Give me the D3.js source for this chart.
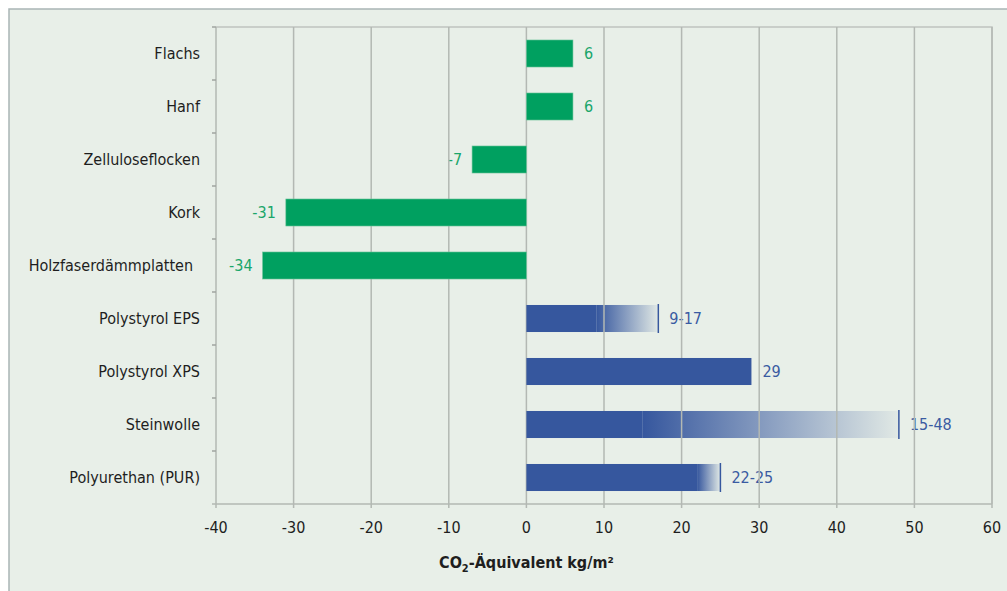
<!DOCTYPE html>
<html>
<head>
<meta charset="utf-8">
<script src="https://cdn.jsdelivr.net/npm/d3@7/dist/d3.min.js"></script>
<style>
  html, body { margin: 0; padding: 0; background: #ffffff; }
  svg text { font-family: "DejaVu Sans Condensed", "DejaVu Sans", sans-serif; }
</style>
</head>
<body>
<svg id="chart" width="1007" height="591"></svg>
<script>
// materials and CO2 equivalent values (kg/m2)
var categories = ["Flachs", "Hanf", "Zelluloseflocken", "Kork", "Holzfaserdämmplatten",
                  "Polystyrol EPS", "Polystyrol XPS", "Steinwolle", "Polyurethan (PUR)"];
var lowValues = [6, 6, -7, -31, -34, 9, 29, 15, 22];
var highValues = [null, null, null, null, null, 17, null, 48, 25];
var groups = ["natur", "natur", "natur", "natur", "natur", "fossil", "fossil", "fossil", "fossil"];
var valueLabels = ["6", "6", "-7", "-31", "-34", "9-17", "29", "15-48", "22-25"];
var xTicks = [-40, -30, -20, -10, 0, 10, 20, 30, 40, 50, 60];

var width = 1007,
    height = 591,
    plotLeft = 216, plotRight = 992, plotTop = 27, plotBottom = 504;

var colors = { natur: "#00a060", fossil: "#36579e" };
var labelColors = { natur: "#1aa66a", fossil: "#3a5ba2" };
var gridColor = "#b3b8b3";
var fontSize = 16;

var data = categories.map(function (c, i) {
    return { name: c, low: lowValues[i], high: highValues[i], group: groups[i], label: valueLabels[i] };
});

var x = d3.scaleLinear().domain([-40, 60]).range([plotLeft, plotRight]);
var y = d3.scaleBand().domain(categories).range([plotTop, plotBottom]).paddingInner(0.49).paddingOuter(0.245);
var step = (plotBottom - plotTop) / categories.length;

var svg = d3.select("#chart");

var defs = svg.append("defs");
var grad = defs.append("linearGradient").attr("id", "fade")
    .attr("x1", "0%").attr("x2", "100%").attr("y1", "0%").attr("y2", "0%");
grad.append("stop").attr("offset", "0%").attr("stop-color", colors.fossil).attr("stop-opacity", 1);
grad.append("stop").attr("offset", "100%").attr("stop-color", colors.fossil).attr("stop-opacity", 0.04);

// panel with border
svg.append("rect")
    .attr("x", 9).attr("y", 9).attr("width", width + 20).attr("height", height + 20)
    .attr("fill", "#e8efe8").attr("stroke", "#a9b5b5").attr("stroke-width", 1.5);

// plot frame (top and right)
svg.append("path")
    .attr("d", "M" + plotLeft + "," + plotTop + "H" + plotRight + "V" + plotBottom)
    .attr("fill", "none").attr("stroke", "#bfc4bf").attr("stroke-width", 1.5);

var ranged = data.filter(function (d) { return d.high !== null; });

// faded part of range bars (below grid)
svg.append("g").selectAll("rect")
    .data(ranged)
    .enter().append("rect")
    .attr("x", function (d) { return x(d.low); })
    .attr("y", function (d) { return y(d.name); })
    .attr("width", function (d) { return x(d.high) - x(d.low); })
    .attr("height", y.bandwidth())
    .attr("fill", "url(#fade)");

// value labels
svg.append("g").selectAll("text")
    .data(data)
    .enter().append("text")
    .attr("x", function (d) {
        var end = d.high !== null ? d.high : d.low;
        return end < 0 ? x(end) - 10 : x(end) + 11;
    })
    .attr("y", function (d) { return y(d.name) + y.bandwidth() / 2; })
    .attr("dy", "0.36em")
    .attr("text-anchor", function (d) { return d.low < 0 ? "end" : "start"; })
    .attr("font-size", fontSize)
    .attr("fill", function (d) { return labelColors[d.group]; })
    .text(function (d) { return d.label; });

// vertical grid lines
svg.append("g").selectAll("line")
    .data(xTicks)
    .enter().append("line")
    .attr("x1", function (d) { return x(d); })
    .attr("x2", function (d) { return x(d); })
    .attr("y1", plotTop)
    .attr("y2", plotBottom + 4)
    .attr("stroke", gridColor)
    .attr("stroke-width", 1.5);

// x axis line
svg.append("line")
    .attr("x1", plotLeft - 4).attr("x2", plotRight)
    .attr("y1", plotBottom).attr("y2", plotBottom)
    .attr("stroke", gridColor).attr("stroke-width", 1.5);

// y axis ticks between categories
svg.append("g").selectAll("line")
    .data(d3.range(categories.length))
    .enter().append("line")
    .attr("x1", plotLeft - 4).attr("x2", plotLeft)
    .attr("y1", function (i) { return plotTop + i * step; })
    .attr("y2", function (i) { return plotTop + i * step; })
    .attr("stroke", "#a0a5a0").attr("stroke-width", 1.5);

// solid bars
svg.append("g").selectAll("rect")
    .data(data)
    .enter().append("rect")
    .attr("x", function (d) { return x(Math.min(0, d.low)); })
    .attr("y", function (d) { return y(d.name); })
    .attr("width", function (d) { return Math.abs(x(d.low) - x(0)); })
    .attr("height", y.bandwidth())
    .attr("fill", function (d) { return colors[d.group]; })
    .attr("stroke", function (d) { return d.group === "natur" ? "#6cc39a" : "none"; })
    .attr("stroke-width", 0.6);

// end markers of range bars
svg.append("g").selectAll("line")
    .data(ranged)
    .enter().append("line")
    .attr("x1", function (d) { return x(d.high); })
    .attr("x2", function (d) { return x(d.high); })
    .attr("y1", function (d) { return y(d.name) - 1; })
    .attr("y2", function (d) { return y(d.name) + y.bandwidth() + 1; })
    .attr("stroke", colors.fossil).attr("stroke-width", 1.5);

// category labels
svg.append("g").selectAll("text")
    .data(data)
    .enter().append("text")
    .attr("x", function (d) { return d.name === "Holzfaserdämmplatten" ? plotLeft - 23 : plotLeft - 16; })
    .attr("y", function (d) { return y(d.name) + y.bandwidth() / 2; })
    .attr("dy", "0.36em")
    .attr("text-anchor", "end")
    .attr("font-size", fontSize)
    .attr("fill", "#1e1e1e")
    .text(function (d) { return d.name; });

// x tick labels
svg.append("g").selectAll("text")
    .data(xTicks)
    .enter().append("text")
    .attr("x", function (d) { return x(d); })
    .attr("y", plotBottom + 29)
    .attr("text-anchor", "middle")
    .attr("font-size", fontSize)
    .attr("fill", "#1e1e1e")
    .text(function (d) { return d; });

// axis title
var title = svg.append("text")
    .attr("x", x(0))
    .attr("y", plotBottom + 64)
    .attr("text-anchor", "middle")
    .attr("font-size", fontSize)
    .attr("font-weight", "bold")
    .attr("fill", "#1e1e1e");
title.append("tspan").text("CO");
title.append("tspan").attr("font-size", 11).attr("dy", 4).text("2");
title.append("tspan").attr("dy", -4).text("-Äquivalent kg/m²");
</script>
</body>
</html>
